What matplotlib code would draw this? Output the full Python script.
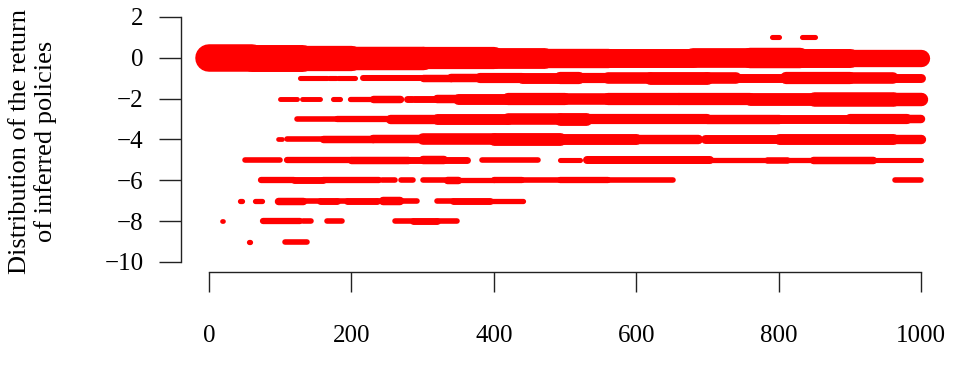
import matplotlib
matplotlib.use("Agg")
import matplotlib.pyplot as plt
import numpy as np

# ---- data: runs of (start iteration, end iteration, number of policies out of 50) per return level
N_POLICIES = 50
runs_p1 = [(791, 801, 1.2), (833, 851, 1.2)]
runs_0 = [(0, 60, 50), (60, 130, 48), (130, 200, 42), (200, 300, 36), (300, 400, 32),
          (400, 470, 28), (470, 560, 24), (560, 680, 23), (680, 760, 25), (760, 830, 27),
          (830, 900, 23), (900, 1000, 19)]
runs_m1 = [(128, 166, 1.2), (169, 178, 1.2), (181, 205, 1.2), (216, 300, 1.8), (300, 340, 3),
           (340, 380, 4), (380, 440, 6), (440, 493, 7), (493, 520, 9), (520, 560, 6),
           (560, 620, 8), (620, 700, 10), (700, 740, 8), (740, 810, 4.5), (810, 900, 9),
           (900, 960, 8), (960, 1000, 4.5)]
runs_m2 = [(100, 124, 1.1), (131, 156, 1.1), (174, 184, 1.2), (198, 230, 1.3), (230, 268, 3),
           (278, 285, 2.5), (288, 320, 2.5), (320, 350, 4), (350, 420, 7), (420, 500, 9),
           (500, 560, 8), (560, 660, 9), (660, 760, 9), (760, 850, 10), (850, 960, 13),
           (960, 1000, 11)]
runs_m3 = [(124, 180, 1.5), (180, 254, 2), (254, 320, 5), (320, 420, 7), (420, 493, 8),
           (493, 530, 10), (530, 700, 6), (700, 800, 5), (800, 900, 4.5), (900, 980, 6),
           (980, 1000, 4)]
runs_m4 = [(97, 103, 1), (110, 160, 1.5), (160, 230, 3), (230, 300, 4), (300, 400, 8),
           (400, 493, 10), (493, 600, 7), (600, 687, 5), (697, 800, 4.5), (800, 960, 7),
           (960, 1000, 5)]
runs_m5 = [(51, 100, 1.5), (110, 200, 2), (200, 280, 3), (280, 300, 2.5), (300, 330, 4),
           (330, 362, 2.5), (383, 462, 1.5), (493, 521, 1.2), (531, 704, 3.5), (704, 784, 1.3),
           (784, 812, 2.2), (812, 848, 1.3), (848, 933, 3), (933, 1000, 1.2)]
runs_m6 = [(73, 120, 2), (120, 160, 2.5), (160, 239, 2), (243, 261, 1.5), (269, 286, 1.5),
           (300, 331, 1.5), (334, 350, 3), (350, 400, 1.3), (400, 440, 2), (440, 493, 1.5),
           (493, 560, 2), (560, 652, 1.5), (963, 1000, 1.5)]
runs_m7 = [(44, 46, 1.3), (65, 75, 1.3), (97, 132, 3), (132, 156, 1.5), (156, 180, 2.5),
           (180, 194, 1.5), (194, 236, 2.5), (236, 244, 1.5), (244, 268, 4), (268, 292, 1.5),
           (320, 343, 1.5), (343, 395, 2.5), (395, 441, 1.3)]
runs_m8 = [(18, 20, 1), (76, 128, 2), (132, 143, 1.5), (166, 187, 1.5), (261, 287, 1.5),
           (287, 320, 2.5), (320, 348, 1.5)]
runs_m9 = [(56, 58, 1.3), (107, 138, 1.5)]

levels = [1, 0, -1, -2, -3, -4, -5, -6, -7, -8, -9]
all_runs = [runs_p1, runs_0, runs_m1, runs_m2, runs_m3, runs_m4, runs_m5,
            runs_m6, runs_m7, runs_m8, runs_m9]

x_ticks = [0, 200, 400, 600, 800, 1000]
y_ticks = [-10, -8, -6, -4, -2, 0, 2]
y_label = "Distribution of the return\nof inferred policies"

# ---- style
plt.rcParams['font.family'] = ['Liberation Serif', 'DejaVu Serif']
W, H = 964, 366
fig = plt.figure(figsize=(W / 100, H / 100), dpi=100)
ax = fig.add_axes([180.5 / W, 1 - 271.8 / H, 769 / W, 264.6 / H])
ax.set_xlim(-40, 1040)
ax.set_ylim(-10.48, 2.48)

FULL_DIAM_PX = 26.5
BLUR_PX = 1.0
for lev, runs in zip(levels, all_runs):
    for s, e, c in runs:
        d_pt = (FULL_DIAM_PX * np.sqrt(c / N_POLICIES) + BLUR_PX) * 0.72
        ax.plot([s, e], [lev, lev], color='#ff0000', lw=d_pt,
                solid_capstyle='round', zorder=2)

for sp in ['top', 'right']:
    ax.spines[sp].set_visible(False)
ax.spines['left'].set_bounds(-10, 2)
ax.spines['bottom'].set_bounds(0, 1000)
for sp in ['left', 'bottom']:
    ax.spines[sp].set_linewidth(1.0)
    ax.spines[sp].set_color('#222222')

ax.set_xticks(x_ticks)
ax.set_yticks(y_ticks)
ax.tick_params(axis='y', direction='out', length=15.5, width=1.0, pad=11,
               labelsize=18, color='#222222')
ax.tick_params(axis='x', direction='out', length=14.4, width=1.0, pad=24,
               labelsize=18, color='#222222')

fig.text(33 / W, 1 - 141 / H, y_label, rotation=90, ha='center', va='center',
         multialignment='center', fontsize=19, linespacing=1.2)

fig.savefig("out.png", dpi=100)
